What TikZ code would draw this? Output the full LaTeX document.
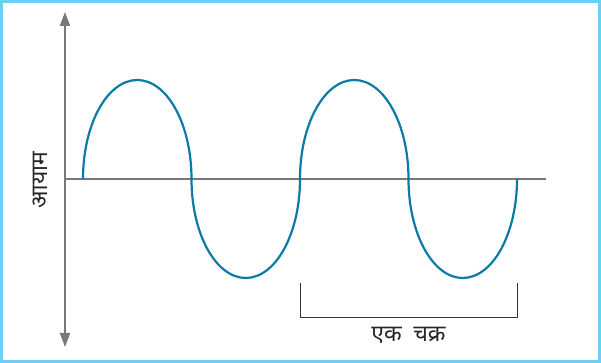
\documentclass[tikz,border=0pt]{standalone}
\usepackage{fontspec}
\newfontfamily\devfont[Script=Devanagari]{Noto Sans}
\usepackage{tikz}
\usetikzlibrary{arrows.meta,positioning,calc}
\definecolor{Frame}{HTML}{6ECFF6}
\definecolor{Axis}{HTML}{77787B}
\definecolor{Wave}{HTML}{0B7AA6}
\tikzset{
  axis/.style={line width=2pt,color=Axis},
  axisarrow/.style={axis,{Triangle[length=14pt,width=10pt]}-{Triangle[length=14pt,width=10pt]}},
  wave/.style={line width=2.2pt,color=Wave},
  bracket/.style={line width=1pt,color=black!80},
  label/.style={font=\devfont\fontsize{23}{27}\selectfont,text=black!85,inner sep=0pt}
}
\begin{document}
\begin{tikzpicture}[x=1pt,y=1pt]
  \useasboundingbox (0,0) rectangle (601,363);
  \draw[Frame,line width=3pt] (1.5,1.5) rectangle (599.5,361.5);
  % axes
  \coordinate (top) at (65,351);
  \coordinate (bottom) at (65,16);
  \coordinate (origin) at (65,184);
  \coordinate (xend) at (546,184);
  \draw[axisarrow] (bottom) -- (top);
  \draw[axis] (origin) -- (xend);
  % wave
  \coordinate (start) at (83,184);
  \draw[wave] (start) arc[start angle=180,end angle=0,x radius=54.25,y radius=99]
    arc[start angle=180,end angle=360,x radius=54.25,y radius=99]
    arc[start angle=180,end angle=0,x radius=54.25,y radius=99]
    arc[start angle=180,end angle=360,x radius=54.25,y radius=99] coordinate (finish);
  % one cycle
  \coordinate (cycleA) at (300,80);
  \coordinate (cycleB) at (517,80);
  \draw[bracket] (cycleA) -- ++(0,-35) coordinate (cornerA) -- (cornerA -| cycleB) coordinate (cornerB) -- (cycleB);
  \node[label,below=9pt of $(cornerA)!0.5!(cornerB)$] (cycle) {एक\enspace चक्र};
  \node[label,rotate=90] (amp) at (40,183) {आयाम};
\end{tikzpicture}
\end{document}
